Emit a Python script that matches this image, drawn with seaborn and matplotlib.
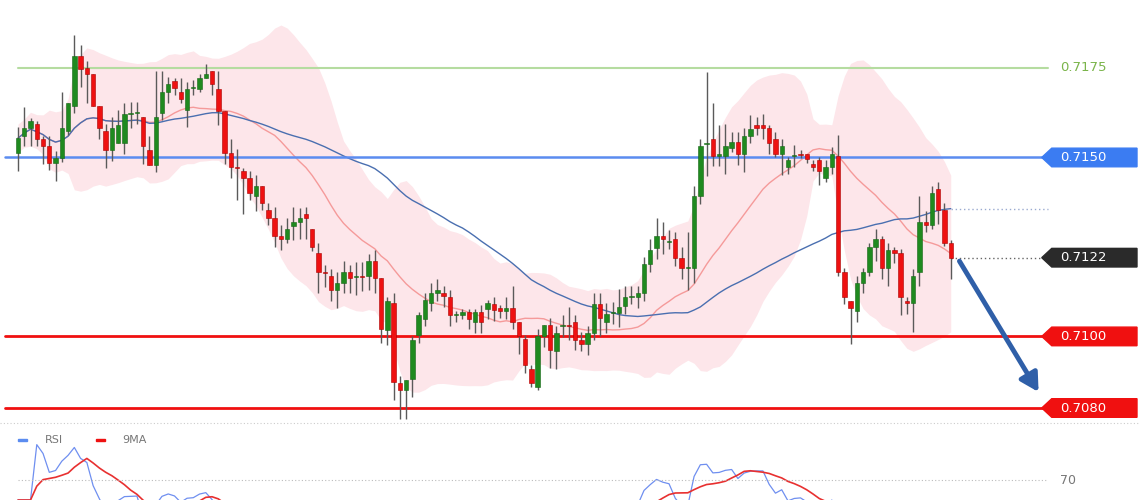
import numpy as np
import pandas as pd
import matplotlib
matplotlib.use("Agg")
import matplotlib.pyplot as plt
import seaborn as sns

opens = [0.71512,0.71561,0.71582,0.71593,0.71551,0.71531,0.71484,0.71498,0.71573,0.71643,
0.71783,0.71750,0.71732,0.71643,0.71573,0.71521,0.71540,0.71540,0.71622,0.71624,
0.71612,0.71521,0.71479,0.71624,0.71683,0.71713,0.71683,0.71634,0.71694,0.71692,
0.71722,0.71743,0.71692,0.71631,0.71512,0.71473,0.71461,0.71442,0.71391,0.71421,
0.71353,0.71332,0.71280,0.71271,0.71309,0.71321,0.71341,0.71300,0.71232,0.71180,0.71169,
0.71129,0.71150,0.71180,0.71166,0.71169,0.71169,0.71211,0.71162,0.71017,0.71092,
0.70870,0.70849,0.70881,0.71003,0.71050,0.71092,0.71120,0.71120,0.71110,0.71059,
0.71059,0.71068,0.71040,0.71068,0.71078,0.71090,0.71079,0.71070,0.71080,0.71040,
0.70993,0.70909,0.70860,0.71000,0.71031,0.70959,0.71028,0.71031,0.71040,0.70991,
0.70979,0.71009,0.71090,0.71040,0.71065,0.71065,0.71084,0.71110,0.71110,0.71120,0.71201,
0.71246,0.71280,0.71264,0.71271,0.71220,0.71190,0.71190,0.71391,0.71538,0.71551,
0.71505,0.71505,0.71526,0.71542,0.71510,0.71561,0.71592,0.71592,0.71582,0.71551,
0.71510,0.71473,0.71503,0.71510,0.71510,0.71482,0.71492,0.71442,0.71473,0.71503,
0.71180,0.71099,0.71070,0.71150,0.71180,0.71250,0.71271,0.71190,0.71241,0.71234,
0.71099,0.71092,0.71180,0.71321,0.71311,0.71411,0.71353,0.71260]
closes = [0.71554,0.71582,0.71601,0.71551,0.71531,0.71484,0.71498,0.71582,0.71652,0.71783,
0.71746,0.71732,0.71643,0.71582,0.71521,0.71582,0.71592,0.71622,0.71624,0.71626,
0.71531,0.71479,0.71612,0.71683,0.71704,0.71694,0.71662,0.71692,0.71696,0.71722,
0.71732,0.71704,0.71631,0.71512,0.71473,0.71471,0.71442,0.71400,0.71421,0.71372,
0.71332,0.71280,0.71271,0.71300,0.71321,0.71330,0.71332,0.71250,0.71180,0.71178,0.71129,
0.71150,0.71180,0.71162,0.71168,0.71167,0.71211,0.71162,0.71021,0.71099,0.70872,
0.70849,0.70879,0.70991,0.71059,0.71101,0.71120,0.71131,0.71112,0.71059,0.71061,
0.71068,0.71050,0.71068,0.71040,0.71092,0.71073,0.71071,0.71080,0.71040,0.71000,
0.70919,0.70869,0.71000,0.71031,0.70961,0.71009,0.71030,0.71029,0.70991,0.70979,
0.71009,0.71090,0.71052,0.71062,0.71067,0.71082,0.71110,0.71112,0.71120,0.71201,0.71241,
0.71280,0.71271,0.71266,0.71218,0.71190,0.71192,0.71391,0.71533,0.71540,0.71505,
0.71510,0.71533,0.71542,0.71510,0.71561,0.71579,0.71582,0.71582,0.71540,0.71510,
0.71531,0.71492,0.71505,0.71508,0.71495,0.71473,0.71463,0.71473,0.71510,0.71180,
0.71110,0.71080,0.71150,0.71180,0.71250,0.71271,0.71190,0.71241,0.71234,0.71110,
0.71092,0.71169,0.71321,0.71311,0.71400,0.71353,0.71262,0.71220]
# wick lengths above / below the body, in units of 0.0001
wick_up = [3,6,1,1,1,3,2,10,0,6,3,2,0,0,2,3,4,3,3,3,0,4,13,6,2,1,4,2,2,1,3,0,5,0,4,5,1,2,3,0,
2,3,3,3,4,3,2,0,3,2,2,
3,3,2,4,4,2,3,0,1,3,2,0,1,1,2,3,3,2,2,1,1,1,1,2,1,2,1,3,6,0,1,1,2,0,2,2,3,5,2,2,2,3,3,3,3,5,3,3,2,2,3,
5,4,3,2,3,10,3,2,20,10,8,6,3,3,2,4,2,3,1,2,2,1,3,1,0,1,1,2,2,6,1,0,2,1,1,3,1,2,1,1,1,2,7,3,2,2,2,1]
wick_dn = [5,3,5,2,5,2,5,1,1,2,5,8,0,3,5,3,0,3,4,3,5,0,2,2,3,2,1,5,2,1,0,3,4,3,3,9,10,2,4,2,
2,3,3,1,4,5,6,1,6,4,3,
5,3,4,5,4,4,4,4,4,5,8,8,5,2,2,2,2,3,3,2,1,3,3,3,3,3,2,2,2,5,2,1,1,3,5,5,3,4,3,2,3,2,5,3,3,4,2,2,3,2,2,
3,4,2,2,3,6,4,2,9,3,3,5,1,3,5,2,2,3,3,1,6,2,3,1,1,1,4,1,2,1,2,10,3,3,1,4,3,5,3,5,3,8,4,2,1,4,1,6]

level_green = 0.7175
level_blue = 0.7150
levels_red = [0.7100, 0.7080]
last_label = "0.7122"

sns.set_theme(style="white")
plt.rcParams['font.family'] = ['DejaVu Sans']

n = len(closes)
df = pd.DataFrame({"i": np.arange(n), "o": opens, "c": closes})
df["hi"] = np.maximum(df.o, df.c) + np.array(wick_up) * 1e-4
df["lo"] = np.minimum(df.o, df.c) - np.array(wick_dn) * 1e-4
df["ma20"] = df.c.rolling(20, min_periods=1).mean()
sd = df.c.rolling(20, min_periods=2).std().bfill()
df["up"] = df.ma20 + 2 * sd
df["dn"] = df.ma20 - 2 * sd
df["ma50"] = df.c.rolling(50, min_periods=1).mean()
d = df.c.diff()
g = d.clip(lower=0).ewm(alpha=1/14, adjust=False).mean()
l = (-d.clip(upper=0)).ewm(alpha=1/14, adjust=False).mean()
df["rsi"] = 100 - 100 / (1 + g / l.replace(0, np.nan))
df["rsi"] = df.rsi.fillna(60)
df["rsima"] = df.rsi.rolling(9, min_periods=1).mean()

fig = plt.figure(figsize=(11.4, 5.0), dpi=100)
ax = fig.add_axes([0, 0.15, 1, 0.85])
ax2 = fig.add_axes([0, 0.0, 1, 0.14])
sp = 6.26
xl = (-18 / sp, (1140 - 18) / sp)
xend = (1048 - 18) / sp
xlab = (1060 - 18) / sp
for a in (ax, ax2):
    a.set_xlim(*xl)
    a.axis("off")
ax.set_ylim(0.7080 - 17 / 35790, 0.7175 + 68 / 35790)

ax.fill_between(df.i, df.dn, df.up, color="#fde6ea", lw=0, zorder=1)
sns.lineplot(x=df.i, y=df.ma20, ax=ax, color="#f59a9a", lw=1, zorder=2)
sns.lineplot(x=df.i, y=df.ma50, ax=ax, color="#4a6fb0", lw=1, zorder=2)

ax.plot([0, xend], [level_green] * 2, color="#b5dca0", lw=1.5, zorder=2)
ax.plot([-2, xend], [level_blue] * 2, color="#5b8cf0", lw=1.8, zorder=2)
for lv in levels_red:
    ax.plot([-2, xend], [lv] * 2, color="#f01010", lw=2, zorder=2)
lastma = df.ma50.iloc[-1]
ax.plot([n - 1, xend], [lastma] * 2, ls=(0, (1, 2)), color="#9aaad0", lw=1)
ax.plot([n - 1, xend], [closes[-1]] * 2, ls=(0, (1, 2)), color="#666666", lw=1)

up = df.c >= df.o
ax.vlines(df.i, df.lo, df.hi, color="#5a5a5a", lw=1, zorder=3)
bh = (df.c - df.o).abs().clip(lower=0.00003)
ax.bar(df.i[up], bh[up], bottom=df.o[up], width=0.7, color="#1f8a1f", edgecolor="#156615", lw=0.4, zorder=4)
ax.bar(df.i[~up], bh[~up], bottom=df.c[~up], width=0.7, color="#ee1111", edgecolor="#aa0000", lw=0.4, zorder=4)

ax.annotate("", xy=((1040 - 18) / sp, 0.70838), xytext=((958 - 18) / sp, closes[-1] - 0.00003),
            arrowprops=dict(arrowstyle="-|>,head_width=0.5,head_length=0.9", color="#2f5fa8", lw=3.5), zorder=6)

ax.text(xlab, level_green, "0.7175", color="#7ab44a", fontsize=9.5, va="center")
box_w = (1137 - 1048) / sp
def tag(y, txt, col):
    ax.add_patch(plt.Polygon([[xend - 1, y], [xend + 0.6, y + 0.00026], [xend + box_w, y + 0.00026],
                              [xend + box_w, y - 0.00026], [xend + 0.6, y - 0.00026]],
                             closed=True, color=col, zorder=5, clip_on=False))
    ax.text(xlab, y, txt, color="white", fontsize=9.5, va="center", zorder=6)
tag(level_blue, "0.7150", "#3b7cf2")
tag(levels_red[0], "0.7100", "#f01010")
tag(levels_red[1], "0.7080", "#f01010")
tag(closes[-1], last_label, "#2a2a2a")

fig.add_artist(plt.Line2D([0, 1], [1 - 423 / 500] * 2, color="#cccccc", lw=0.8, ls=(0, (1, 2))))

ax2.set_ylim(60, 95)
sns.lineplot(x=df.i, y=df.rsi, ax=ax2, color="#6f8ff0", lw=0.9)
sns.lineplot(x=df.i, y=df.rsima, ax=ax2, color="#e83030", lw=1.2)
ax2.plot([0, xend], [70, 70], color="#bbbbbb", lw=0.8, ls=(0, (1, 2)))
ax2.text(xlab, 70, "70", color="#777777", fontsize=9, va="center")
ax2.add_patch(plt.Rectangle((0, 89.3), 1.5, 1.3, color="#5b8cf0"))
ax2.text(4.3, 90, "RSI", color="#777777", fontsize=8, va="center")
ax2.add_patch(plt.Rectangle((12.4, 89.3), 1.5, 1.3, color="#ee1111"))
ax2.text(16.6, 90, "9MA", color="#777777", fontsize=8, va="center")

fig.savefig("out.png", dpi=100)
